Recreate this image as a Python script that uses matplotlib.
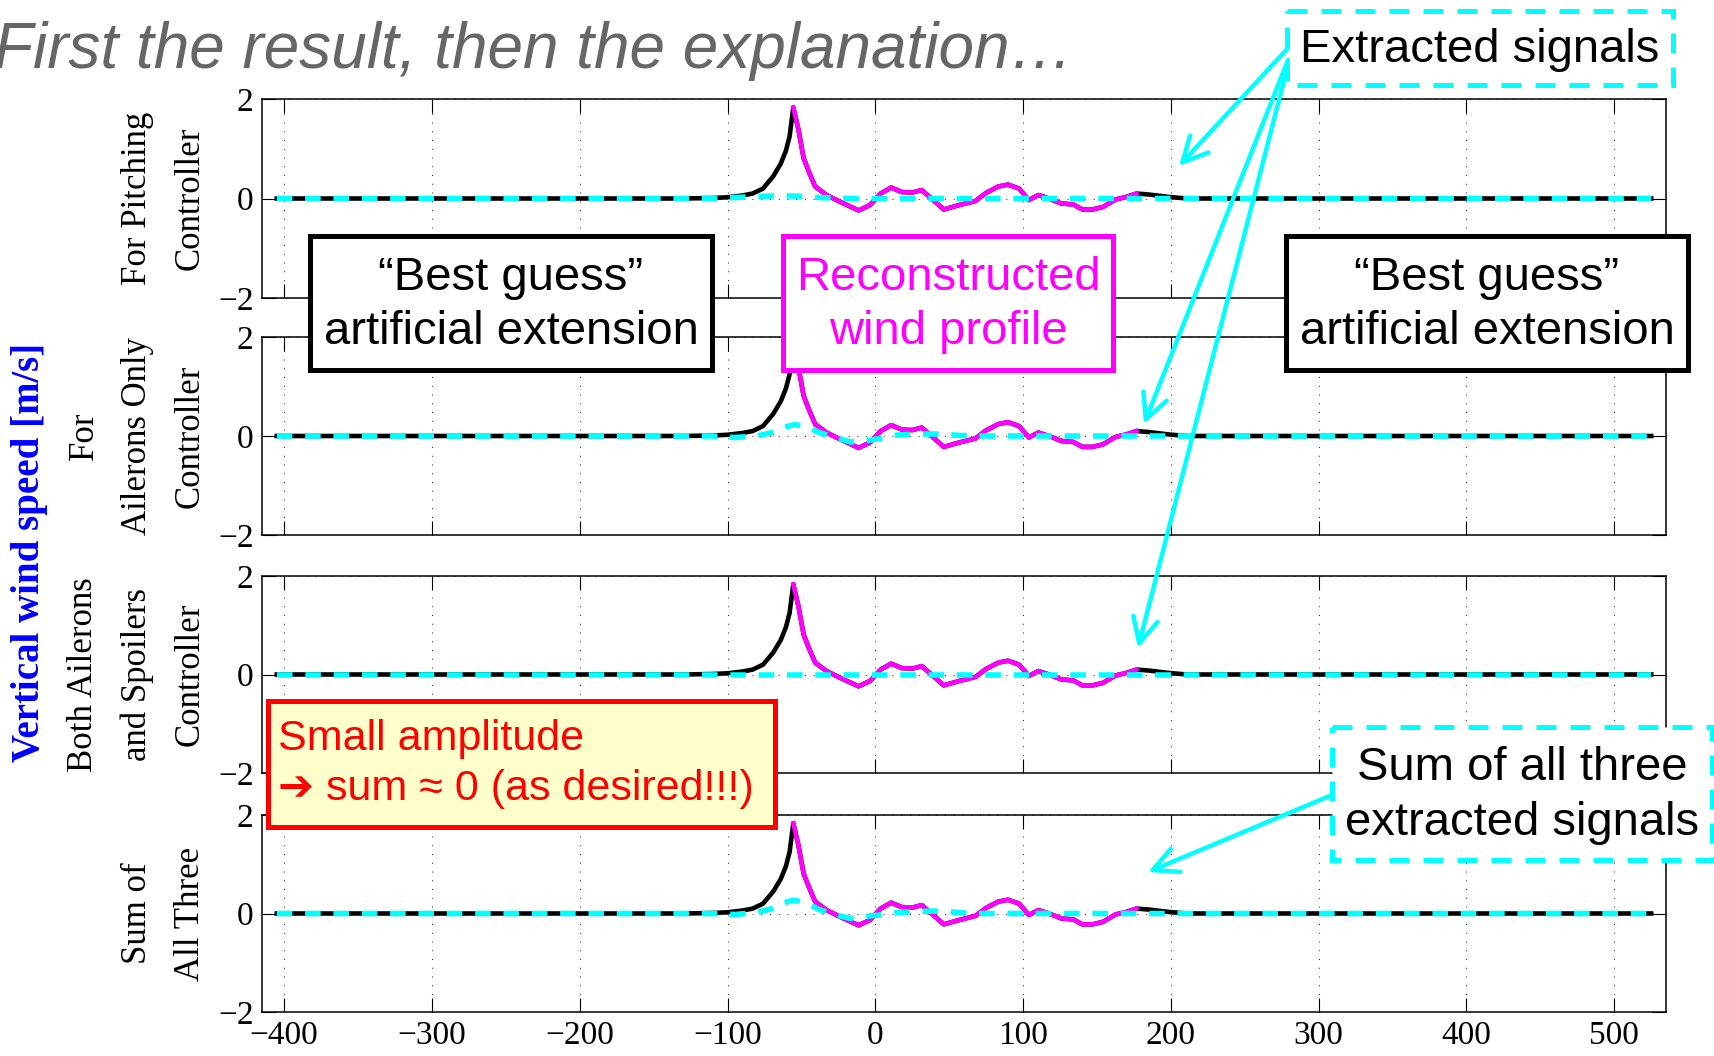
import matplotlib
matplotlib.use('Agg')
import matplotlib.pyplot as plt
from matplotlib.patches import Rectangle, FancyArrowPatch

# ---------------- data ----------------
# black "best guess" rising flank before the measured profile
pre_x = [-405, -130, -110, -100, -90, -83, -76, -69, -64, -60.5, -58, -55.5]
pre_y = [0, 0, 0.01, 0.025, 0.06, 0.1, 0.2, 0.45, 0.7, 0.96, 1.25, 1.83]

# magenta reconstructed wind profile
rec_x = [-55.5, -52, -48.5, -45, -40.7, -33, -23.6, -11.3, -3.5, 3.6, 10.7, 17.9,
         25, 31.4, 38, 46.3, 57, 67.7, 74.8, 83.1, 89.7, 97.3, 103.9, 110.3,
         117.5, 125.8, 134, 140, 147, 154, 162.5, 169.6, 176.7]
rec_y = [1.83, 1.38, 0.81, 0.54, 0.24, 0.07, -0.07, -0.24, -0.13, 0.1, 0.22, 0.13,
         0.12, 0.17, 0.0, -0.22, -0.13, -0.05, 0.11, 0.24, 0.28, 0.2, -0.03, 0.07,
         0.0, -0.1, -0.12, -0.22, -0.22, -0.17, -0.02, 0.03, 0.1]

# black "best guess" tail after the measured profile
post_x = [176.7, 185, 199, 211, 525]
post_y = [0.1, 0.08, 0.03, 0.0, 0.0]

# cyan extracted signals (one per panel)
cyan_x = [-405, -110, -95, -80, -70, -62, -55, -47, -38, -28, -17, -7, 3, 15, 28, 40, 52, 65, 525]
cyan_pitch = [0, 0, 0.02, 0.04, 0.05, 0.05, 0.05, 0.04, 0.02, 0.01, 0, 0, 0, 0, 0, 0, 0, 0, 0]
cyan_ailerons = [0, 0, -0.03, 0.0, 0.07, 0.17, 0.23, 0.2, 0.07, -0.02, -0.12, -0.1, -0.05,
                 0.02, 0.04, 0.04, 0.02, 0, 0]
cyan_spoilers = [0, 0, 0, 0, 0, 0, 0, 0, 0, 0, 0, 0, 0, 0, 0, 0, 0, 0, 0]
cyan_sum = [0, 0, -0.02, 0.02, 0.1, 0.22, 0.27, 0.22, 0.08, -0.02, -0.1, -0.06, -0.03,
            0.02, 0.04, 0.05, 0.03, 0, 0]

panel_labels = ["For Pitching\nController",
                "For\nAilerons Only\nController",
                "Both Ailerons\nand Spoilers\nController",
                "Sum of\nAll Three"]
x_ticks = [-400, -300, -200, -100, 0, 100, 200, 300, 400, 500]
y_ticks = [-2, 0, 2]

# ---------------- figure ----------------
W, H, DPI = 1715, 1056, 100
plt.rcParams['font.family'] = ['Liberation Serif', 'DejaVu Serif']
plt.rcParams['axes.unicode_minus'] = True
SANS = ['Liberation Sans', 'DejaVu Sans']

fig = plt.figure(figsize=(W / DPI, H / DPI), dpi=DPI)
fig.patch.set_facecolor('white')

black_x = pre_x + rec_x[1:] + post_x[1:]
black_y = pre_y + rec_y[1:] + post_y[1:]
cyan_sets = [cyan_pitch, cyan_ailerons, cyan_spoilers, cyan_sum]

tops = [99, 337, 576, 815]
bots = [298, 535, 773, 1012]
L, R = 262, 1666

for i in range(4):
    ax = fig.add_axes([L / W, 1 - bots[i] / H, (R - L) / W, (bots[i] - tops[i]) / H])
    ax.plot(black_x, black_y, color='black', lw=3.3, zorder=3)
    ax.plot(rec_x, rec_y, color='#FF00FF', lw=3.3, zorder=4)
    ax.plot(cyan_x, cyan_sets[i], color='#00FFFF', lw=4.0, dashes=(2.8, 2.3), zorder=5)
    ax.set_xlim(-415, 535)
    ax.set_ylim(-2, 2)
    ax.set_xticks(x_ticks)
    ax.set_yticks(y_ticks)
    ax.grid(True, linestyle=(0, (1, 8)), color='#222222', lw=0.7)
    ax.tick_params(direction='in', length=10, width=0.8, top=True, right=True,
                   labelsize=24, pad=6)
    if i < 3:
        ax.tick_params(labelbottom=False)
    for s in ax.spines.values():
        s.set_linewidth(1.1)
    ax.set_ylabel(panel_labels[i], fontsize=25, linespacing=1.8, labelpad=8)

# overlay in pixel coordinates for annotations
ov = fig.add_axes([0, 0, 1, 1])
ov.set_xlim(0, W)
ov.set_ylim(H, 0)
ov.axis('off')
ov.patch.set_alpha(0)

fig.text(-6 / W, 1 - 68 / H, "First the result, then the explanation\u2026",
         fontsize=46, style='italic', color='#666666', family=SANS,
         ha='left', va='baseline')

fig.text(30 / W, 1 - 552 / H, "Vertical wind speed [m/s]", rotation=90,
         fontsize=28, fontweight='bold', color='#0000FF', ha='center', va='center')

def box(x0, y0, x1, y1, text, ec, tc, fc='white', ls='solid', ha='center', tx=None):
    ov.add_patch(Rectangle((x0, y0), x1 - x0, y1 - y0, facecolor=fc, edgecolor=ec,
                           lw=3.6, linestyle=ls, zorder=10, joinstyle='miter'))
    if ha == 'center':
        ov.text((x0 + x1) / 2, (y0 + y1) / 2 + 2, text, ha='center', va='center',
                fontsize=34, color=tc, family=SANS, linespacing=1.3, zorder=11)
    else:
        ov.text(tx, (y0 + y1) / 2, text, ha='left', va='center',
                fontsize=31, color=tc, family=SANS, linespacing=1.3, zorder=11)

box(310, 236, 712, 370, "\u201cBest guess\u201d\nartificial extension", 'black', 'black')
box(783, 236, 1113, 370, "Reconstructed\nwind profile", '#FF00FF', '#FF00FF')
box(1286, 236, 1688, 370, "\u201cBest guess\u201d\nartificial extension", 'black', 'black')
box(1287, 11, 1673, 85, "Extracted signals", '#00FFFF', 'black', ls=(0, (4, 2.8)))
box(1332, 727, 1712, 860, "Sum of all three\nextracted signals", '#00FFFF', 'black',
    ls=(0, (4, 2.8)))
box(268, 701, 775, 827, "Small amplitude\n\u2794 sum \u2248 0 (as desired!!!)", '#FF0000',
    '#FF0000', fc='#FFFFCC', ha='left', tx=278)

arrows = [((1288, 48), (1179, 166)),
          ((1288, 60), (1144, 424)),
          ((1288, 65), (1138, 648)),
          ((1332, 795), (1148, 872))]
for (a, b) in arrows:
    ov.add_patch(FancyArrowPatch(a, b, arrowstyle='->,head_length=0.6,head_width=0.3',
                                 mutation_scale=30, color='#00FFFF', lw=3.2,
                                 shrinkA=0, shrinkB=0, zorder=12))

fig.savefig('out.png', dpi=DPI)
